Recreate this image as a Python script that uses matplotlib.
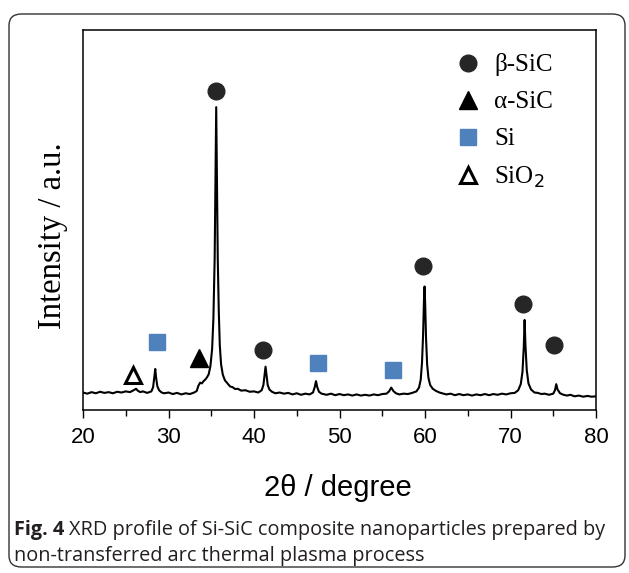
import matplotlib
matplotlib.use('Agg')
import matplotlib.pyplot as plt
from matplotlib.patches import FancyBboxPatch
from matplotlib.lines import Line2D

# XRD profile (2theta in degrees, intensity in arbitrary units)
two_theta = [20.0, 20.5, 21.0, 21.5, 22.0, 22.5, 23.0, 23.5, 24.0, 24.5, 25.0, 25.5,
             26.0, 26.2, 26.4, 26.7, 27.0, 27.5, 28.0, 28.2, 28.35, 28.45, 28.55, 28.7,
             28.9, 29.2, 29.5, 30.0, 30.5, 31.0, 31.5, 32.0, 32.5, 33.0, 33.3, 33.5,
             33.7, 33.9, 34.1, 34.3, 34.5, 34.7, 34.9, 35.1, 35.25, 35.4, 35.5, 35.58,
             35.66, 35.76, 35.88, 36.0, 36.15, 36.35, 36.6, 36.9, 37.2, 37.5, 37.8, 38.1,
             38.5, 39.0, 39.5, 40.0, 40.5, 40.9, 41.1, 41.25, 41.35, 41.45, 41.6, 41.8,
             42.1, 42.5, 43.0, 43.5, 44.0, 44.5, 45.0, 45.5, 46.0, 46.5, 46.9, 47.1,
             47.25, 47.4, 47.6, 47.9, 48.5, 49.0, 49.5, 50.0, 50.5, 51.0, 51.5, 52.0,
             52.5, 53.0, 53.5, 54.0, 54.5, 55.0, 55.5, 55.8, 56.05, 56.3, 56.6, 57.0,
             57.5, 58.0, 58.5, 59.0, 59.3, 59.5, 59.65, 59.78, 59.88, 59.95, 60.02, 60.12,
             60.25, 60.4, 60.6, 60.9, 61.3, 61.7, 62.0, 62.5, 63.0, 63.5, 64.0, 64.5,
             65.0, 65.5, 66.0, 66.5, 67.0, 67.5, 68.0, 68.5, 69.0, 69.5, 70.0, 70.5,
             70.9, 71.2, 71.4, 71.55, 71.65, 71.75, 71.9, 72.1, 72.4, 72.8, 73.2, 73.6,
             74.0, 74.5, 75.0, 75.2, 75.35, 75.5, 75.8, 76.2, 76.6, 77.0, 77.5, 78.0,
             78.5, 79.0, 79.5, 80.0]
intensity = [4.6, 4.3, 4.7, 4.4, 4.8, 4.5, 4.7, 4.4, 4.8, 4.6, 4.9, 4.7,
             5.3, 5.6, 5.1, 4.7, 4.9, 4.5, 4.9, 6.0, 9.0, 10.8, 8.5, 6.2,
             5.2, 4.6, 4.4, 4.6, 4.2, 4.5, 4.1, 4.4, 4.2, 4.6, 5.0, 6.4,
             7.2, 7.0, 7.6, 8.0, 8.6, 9.4, 11.5, 16.0, 24.0, 40.0, 62.0, 79.7,
             62.0, 40.0, 26.0, 17.0, 12.0, 9.3, 7.8, 7.0, 6.2, 6.0, 5.5, 5.6,
             5.1, 5.2, 4.8, 4.9, 4.6, 5.2, 6.6, 9.5, 11.4, 9.4, 6.6, 5.4,
             4.8, 4.4, 4.6, 4.3, 4.5, 4.1, 4.4, 4.0, 4.3, 4.1, 4.6, 6.0,
             7.6, 6.0, 4.8, 4.3, 4.0, 4.3, 3.9, 4.2, 3.9, 4.1, 3.8, 4.1,
             3.8, 4.0, 3.8, 4.1, 3.9, 4.2, 4.3, 4.9, 5.9, 5.0, 4.4, 4.1,
             4.3, 4.2, 4.5, 4.9, 5.9, 8.0, 12.5, 20.0, 29.0, 32.5, 28.0, 19.0,
             12.0, 8.5, 6.6, 5.6, 5.0, 4.6, 4.4, 4.1, 4.3, 3.9, 4.2, 3.9,
             4.1, 3.8, 4.1, 3.9, 4.2, 3.9, 4.2, 4.0, 4.3, 4.1, 4.4, 4.5,
             5.2, 6.8, 10.0, 16.5, 23.7, 17.0, 10.5, 7.0, 5.4, 4.6, 4.5, 4.2,
             4.3, 4.0, 4.3, 5.2, 6.8, 5.4, 4.4, 4.0, 3.8, 4.0, 3.6, 3.8,
             3.5, 3.7, 3.5, 3.6]

# phase markers placed above the peaks
beta_x = [35.6, 41.1, 59.8, 71.5, 75.1]
beta_y = [84.0, 15.8, 37.9, 27.9, 17.1]
alpha_x = [33.6]
alpha_y = [13.7]
si_x = [28.7, 47.5, 56.3]
si_y = [17.9, 12.4, 10.5]
sio2_x = [25.8]
sio2_y = [9.2]

W, H = 629, 573
fig = plt.figure(figsize=(W / 100, H / 100), dpi=100)

# rounded frame around figure + caption
frame = FancyBboxPatch((9 / W, 6 / H), 616 / W, 553 / H,
                       boxstyle='round,pad=0,rounding_size=0.02',
                       transform=fig.transFigure, facecolor='none',
                       edgecolor='#333333', linewidth=1.0)
fig.patches.append(frame)

ax = fig.add_axes([83 / W, (H - 410) / H, 513 / W, 380 / H])
ax.plot(two_theta, intensity, color='black', linewidth=1.5)

ax.plot(beta_x, beta_y, 'o', color='#262626', markersize=12, linestyle='none')
ax.plot(alpha_x, alpha_y, '^', color='black', markersize=13, linestyle='none')
ax.plot(si_x, si_y, 's', color='#4f81bd', markersize=12, linestyle='none')
ax.plot(sio2_x, sio2_y, '^', markerfacecolor='white', markeredgecolor='black',
        markeredgewidth=2.2, markersize=11, linestyle='none')

handles = [
    Line2D([], [], marker='o', color='#262626', markersize=12, linestyle='none'),
    Line2D([], [], marker='^', color='black', markersize=13, linestyle='none'),
    Line2D([], [], marker='s', color='#4f81bd', markersize=12, linestyle='none'),
    Line2D([], [], marker='^', markerfacecolor='white', markeredgecolor='black',
           markeredgewidth=2.2, markersize=11, linestyle='none'),
]
labels = ['β-SiC', 'α-SiC', 'Si', 'SiO$_2$']
ax.legend(handles, labels, loc='upper left', bbox_to_anchor=(0.682, 0.998),
          frameon=False, prop={'family': 'Liberation Serif', 'size': 18},
          labelspacing=0.58, handletextpad=0.55, handlelength=1.0)

ax.set_xlim(20, 80)
ax.set_ylim(0, 100)
ax.set_xticks(range(20, 81, 10))
ax.set_xticks(range(25, 80, 10), minor=True)
ax.set_yticks([])
ax.tick_params(axis='x', which='major', direction='out', length=6, width=1,
               labelsize=16, pad=6)
ax.tick_params(axis='x', which='minor', direction='out', length=4, width=1)
for lbl in ax.get_xticklabels():
    lbl.set_family('Liberation Sans')
for sp in ax.spines.values():
    sp.set_linewidth(1.1)

# axis titles
fig.text(338 / W, 1 - 488 / H, '2θ / degree', family='Liberation Sans',
         fontsize=21, ha='center', va='center')
fig.text(53 / W, 1 - 236 / H, 'Intensity / a.u.', family='Liberation Serif',
         fontsize=23.5, rotation=90, ha='center', va='center')

# caption, bold figure number followed by regular text
cap_color = '#231f20'
cap_size = 14.3
t1 = fig.text(14 / W, 1 - 535 / H, 'Fig. 4', family='Open Sans', weight='bold',
              fontsize=cap_size, color=cap_color)
fig.canvas.draw()
bb = t1.get_window_extent()
fig.text(bb.x1 / W + 5 / W, 1 - 535 / H,
         'XRD profile of Si-SiC composite nanoparticles prepared by',
         family='Open Sans', fontsize=cap_size, color=cap_color)
fig.text(14 / W, 1 - 561 / H, 'non-transferred arc thermal plasma process',
         family='Open Sans', fontsize=cap_size, color=cap_color)

fig.savefig('out.png', dpi=100)
